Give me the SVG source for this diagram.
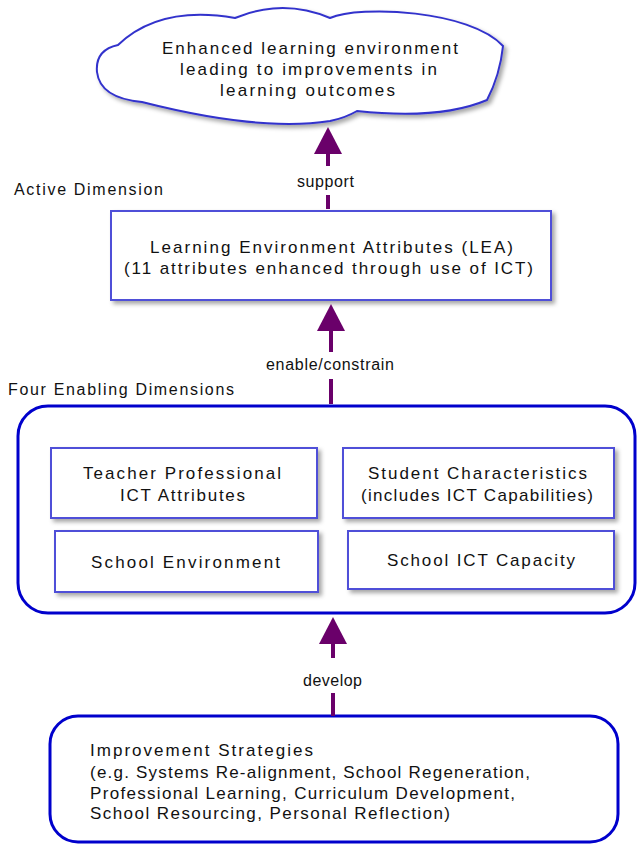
<svg xmlns="http://www.w3.org/2000/svg" width="638" height="846" viewBox="0 0 638 846">
<style>
text{font-family:"Liberation Sans",Arial,sans-serif;fill:#111;}
.t{font-size:17px;}
.lab{font-size:16px;}
.box{fill:#fff;stroke:#5050d8;stroke-width:2;}
.frame{fill:#fff;stroke:#0000cc;stroke-width:3;}
.cloud{fill:#fff;stroke:#3333cc;stroke-width:2;}
.conn{fill:none;stroke:#6a006a;stroke-width:4;}
</style>
<defs>
<filter id="sh" x="-10%" y="-10%" width="130%" height="140%">
<feDropShadow dx="3" dy="3" stdDeviation="2" flood-color="#000" flood-opacity="0.35"/>
</filter>
<marker id="ah" markerUnits="userSpaceOnUse" markerWidth="28" markerHeight="30" refX="0" refY="14" orient="auto" viewBox="0 0 28 30">
<polygon points="0,0 27,14 0,28" fill="#6a006a"/>
</marker>
</defs>
<rect width="638" height="846" fill="#fff"/>

<g id="outcome">
<path class="cloud" filter="url(#sh)" d="M97,72 Q95,50 118,45 Q160,5 235,18 Q283,-2 330,18 C360,5 470,10 503,46 Q500,75 487,100 Q440,120 357,111 Q345,118 330,121 Q260,132 142,102 Q100,98 97,72 Z"/>
<text class="t" x="310" y="54" text-anchor="middle" textLength="296" lengthAdjust="spacing">Enhanced learning environment</text>
<text class="t" x="308.5" y="75" text-anchor="middle" textLength="257" lengthAdjust="spacing">leading to improvements in</text>
<text class="t" x="307.5" y="96" text-anchor="middle" textLength="175" lengthAdjust="spacing">learning outcomes</text>
</g>

<g id="active-dimension-label">
<text class="lab" x="14" y="195" textLength="149" lengthAdjust="spacing">Active Dimension</text>
</g>

<g id="lea">
<rect class="box" filter="url(#sh)" x="111" y="211" width="440" height="89"/>
<text class="t" x="331.5" y="253" text-anchor="middle" textLength="363" lengthAdjust="spacing">Learning Environment Attributes (LEA)</text>
<text class="t" x="328.5" y="274" text-anchor="middle" textLength="409" lengthAdjust="spacing">(11 attributes enhanced through use of ICT)</text>
</g>

<g id="enabling-dimensions-label">
<text class="lab" x="8" y="395" textLength="226" lengthAdjust="spacing">Four Enabling Dimensions</text>
</g>

<g id="enabling-dimensions">
<rect class="frame" x="18" y="406" width="617" height="207" rx="30" ry="30"/>
</g>

<g id="teacher">
<rect class="box" filter="url(#sh)" x="51" y="448" width="266" height="70"/>
<text class="t" x="182" y="479" text-anchor="middle" textLength="198" lengthAdjust="spacing">Teacher Professional</text>
<text class="t" x="182.5" y="501" text-anchor="middle" textLength="125" lengthAdjust="spacing">ICT Attributes</text>
</g>

<g id="student">
<rect class="box" filter="url(#sh)" x="343" y="448" width="271" height="70"/>
<text class="t" x="477.5" y="479" text-anchor="middle" textLength="219" lengthAdjust="spacing">Student Characteristics</text>
<text class="t" x="477" y="501" text-anchor="middle" textLength="232" lengthAdjust="spacing">(includes ICT Capabilities)</text>
</g>

<g id="school-environment">
<rect class="box" filter="url(#sh)" x="55" y="531" width="263" height="61"/>
<text class="t" x="185.5" y="568" text-anchor="middle" textLength="189" lengthAdjust="spacing">School Environment</text>
</g>

<g id="school-ict">
<rect class="box" filter="url(#sh)" x="348" y="531" width="266" height="58"/>
<text class="t" x="481" y="566" text-anchor="middle" textLength="188" lengthAdjust="spacing">School ICT Capacity</text>
</g>

<g id="strategies">
<rect class="frame" x="50" y="716" width="568" height="126" rx="28" ry="28"/>
<text class="t" x="90" y="756" textLength="223" lengthAdjust="spacing">Improvement Strategies</text>
<text class="t" x="90" y="778" textLength="440" lengthAdjust="spacing">(e.g. Systems Re-alignment, School Regeneration,</text>
<text class="t" x="90" y="799" textLength="425" lengthAdjust="spacing">Professional Learning, Curriculum Development,</text>
<text class="t" x="90" y="819" textLength="360" lengthAdjust="spacing">School Resourcing, Personal Reflection)</text>
</g>

<g id="connectors">
<path class="conn" d="M328,209 V195"/>
<path class="conn" d="M328,166 V154" marker-end="url(#ah)"/>
<text class="lab" x="325.5" y="187" text-anchor="middle" textLength="57" lengthAdjust="spacing">support</text>

<path class="conn" d="M331,404 V379"/>
<path class="conn" d="M331,352 V331" marker-end="url(#ah)"/>
<text class="lab" x="330" y="370" text-anchor="middle" textLength="128" lengthAdjust="spacing">enable/constrain</text>

<path class="conn" d="M333,716 V693"/>
<path class="conn" d="M333,658 V644" marker-end="url(#ah)"/>
<text class="lab" x="332.5" y="686" text-anchor="middle" textLength="59" lengthAdjust="spacing">develop</text>
</g>
</svg>
